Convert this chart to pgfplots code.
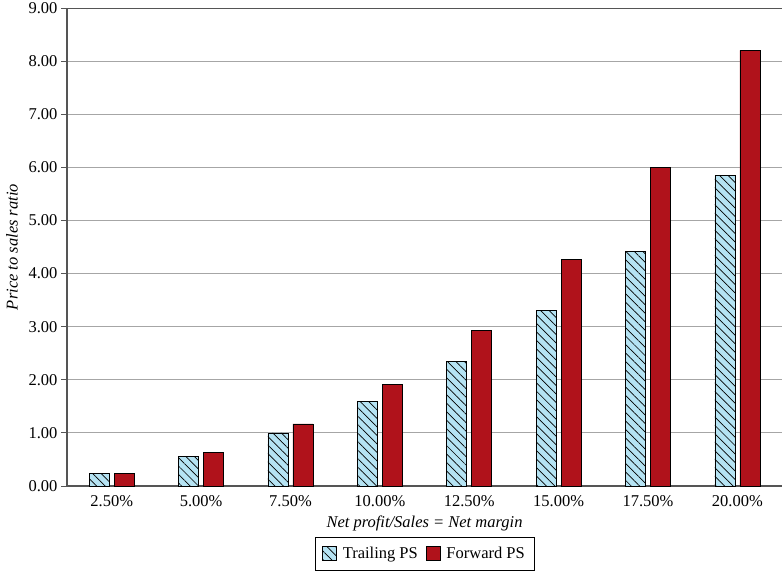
\documentclass[border=0pt]{standalone}
\usepackage{pgfplots}
\pgfplotsset{compat=1.18}
\usepackage{fontspec}
\setmainfont{Liberation Serif}
\usetikzlibrary{patterns.meta}
\definecolor{lblue}{HTML}{B5E3F3}
\definecolor{dred}{HTML}{B0121B}
\definecolor{axgray}{HTML}{555555}
\begin{document}
\begin{tikzpicture}
\begin{axis}[
  scale only axis, width=715pt, height=478pt,
  xmin=-0.5, xmax=7.5, ymin=0, ymax=9,
  ybar=5pt, bar width=20pt,
  xtick={0,...,7},
  xticklabels={2.50\%,5.00\%,7.50\%,10.00\%,12.50\%,15.00\%,17.50\%,20.00\%},
  ytick={0,1,...,9},
  yticklabel style={/pgf/number format/.cd, fixed, fixed zerofill, precision=2},
  /pgf/number format/assume math mode=true,
  ticklabel style={font=\fontsize{16.5}{19}\selectfont},
  ymajorgrids, grid style={gray!70, line width=0.8pt},
  axis x line*=bottom, axis y line*=left,
  axis line style={axgray, line width=1.2pt},
  tick align=outside, major tick length=6pt,
  ytick style={axgray, line width=1pt},
  xtick style={draw=none},
  xlabel={\itshape Net profit/Sales = Net margin},
  ylabel={\itshape Price to sales ratio},
  label style={font=\fontsize{16.5}{19}\selectfont},
  xlabel style={yshift=-2pt},
  ylabel style={yshift=4pt},
  legend image code/.code={\draw[#1] (0pt,-7pt) rectangle (14pt,7pt);},
  legend columns=2,
  legend style={at={(axis description cs:0.5,0)}, yshift=-51pt, anchor=north,
    draw=black, line width=0.6pt, inner xsep=7pt, inner ysep=8pt,
    font=\fontsize{16.5}{19}\selectfont,
    /tikz/every odd column/.append style={column sep=4pt},
    /tikz/every even column/.append style={column sep=6pt}},
]
\addplot[draw=black, line width=0.6pt, fill=lblue,
  postaction={pattern={Lines[angle=-45,distance=6pt,line width=0.7pt]}, pattern color=black}]
  coordinates {(0,0.24) (1,0.56) (2,1.00) (3,1.60) (4,2.35) (5,3.30) (6,4.42) (7,5.85)};
\addplot[draw=black, line width=0.6pt, fill=dred]
  coordinates {(0,0.24) (1,0.63) (2,1.17) (3,1.91) (4,2.93) (5,4.27) (6,6.00) (7,8.20)};
\legend{Trailing PS, Forward PS}
\draw[axgray, line width=1.2pt] (rel axis cs:0,1) -- (rel axis cs:1,1);
\end{axis}
\pgfresetboundingbox
\path[use as bounding box] (-67pt,-90pt) rectangle (716pt,486pt);
\end{tikzpicture}
\end{document}
